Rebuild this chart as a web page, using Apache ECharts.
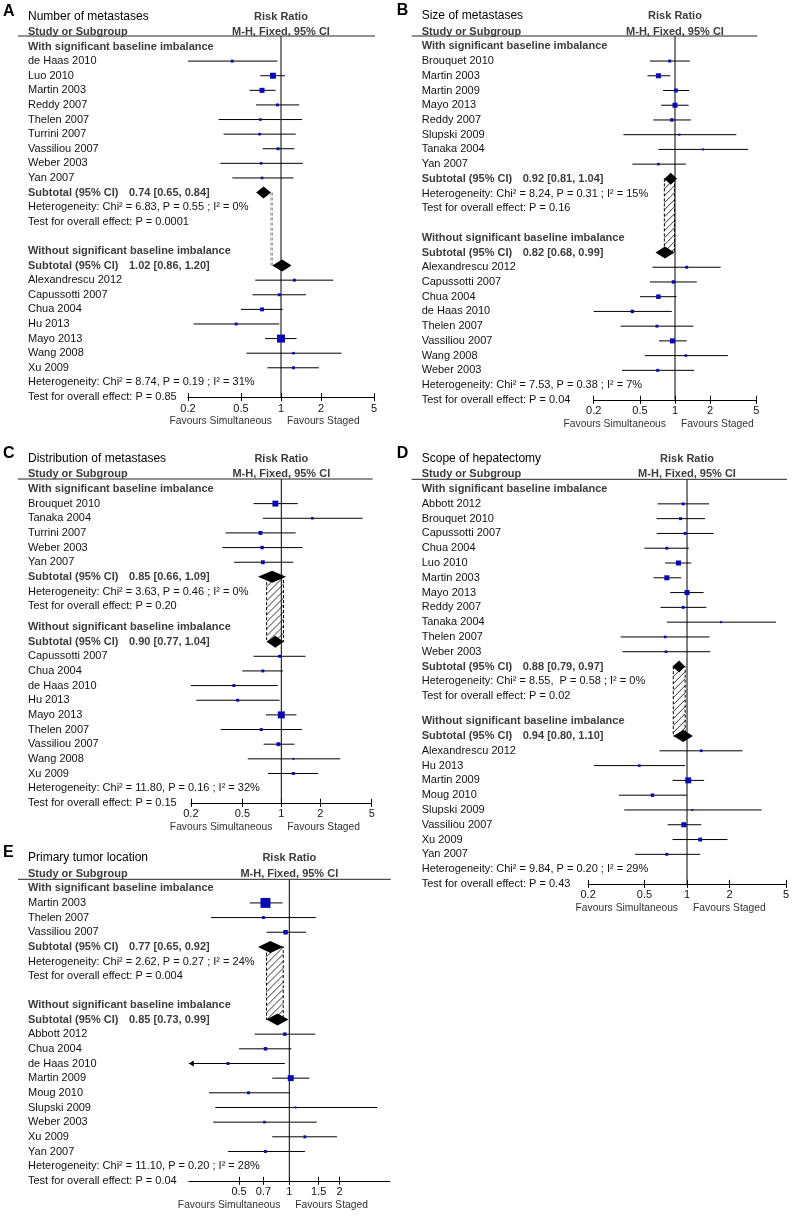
<!DOCTYPE html>
<html>
<head>
<meta charset="utf-8">
<script src="https://cdn.jsdelivr.net/npm/echarts@6/dist/echarts.min.js"></script>
<style>
html, body { margin: 0; padding: 0; background: #fff; }
#main { width: 792px; height: 1216px; }
</style>
</head>
<body>
<div id="main"></div>
<script>
// risk ratio (95% CI) of each study
var studyNames = ['de Haas 2010', 'Luo 2010', 'Martin 2003', 'Reddy 2007', 'Thelen 2007', 'Turrini 2007',
  'Vassiliou 2007', 'Weber 2003', 'Yan 2007', 'Alexandrescu 2012', 'Capussotti 2007', 'Chua 2004',
  'Hu 2013', 'Mayo 2013', 'Wang 2008', 'Xu 2009', 'Brouquet 2010', 'Martin 2009', 'Slupski 2009',
  'Tanaka 2004', 'Abbott 2012', 'Moug 2010'];
var studyRR    = [0.43, 0.87, 0.72, 0.94, 0.70, 0.69, 0.95, 0.71, 0.72, 1.26, 0.97, 0.72, 0.46, 1.00, 1.24, 1.24, 0.90, 1.02, 1.09, 1.74, 0.94, 0.57];
var studyLower = [0.20, 0.70, 0.58, 0.65, 0.34, 0.37, 0.73, 0.35, 0.43, 0.64, 0.61, 0.50, 0.22, 0.76, 0.55, 0.79, 0.61, 0.79, 0.36, 0.72, 0.62, 0.33];
var studyUpper = [0.94, 1.07, 0.91, 1.37, 1.44, 1.29, 1.26, 1.46, 1.24, 2.47, 1.54, 1.03, 0.97, 1.31, 2.85, 1.93, 1.34, 1.32, 3.37, 4.25, 1.43, 1.00];

var panelLetters = ['A', 'B', 'C', 'D', 'E'];
var panelTitles = ['Number of metastases', 'Size of metastases', 'Distribution of metastases',
  'Scope of hepatectomy', 'Primary tumor location'];

var withStudies = [
  ['de Haas 2010', 'Luo 2010', 'Martin 2003', 'Reddy 2007', 'Thelen 2007', 'Turrini 2007', 'Vassiliou 2007', 'Weber 2003', 'Yan 2007'],
  ['Brouquet 2010', 'Martin 2003', 'Martin 2009', 'Mayo 2013', 'Reddy 2007', 'Slupski 2009', 'Tanaka 2004', 'Yan 2007'],
  ['Brouquet 2010', 'Tanaka 2004', 'Turrini 2007', 'Weber 2003', 'Yan 2007'],
  ['Abbott 2012', 'Brouquet 2010', 'Capussotti 2007', 'Chua 2004', 'Luo 2010', 'Martin 2003', 'Mayo 2013', 'Reddy 2007', 'Tanaka 2004', 'Thelen 2007', 'Weber 2003'],
  ['Martin 2003', 'Thelen 2007', 'Vassiliou 2007']
];
var withWeights = [
  [5, 21, 15, 5, 4, 4, 5, 4, 4],
  [5, 15, 9, 15, 7, 2.4, 2.4, 4],
  [21, 4, 9, 7, 9],
  [5, 5, 5, 5, 15, 15, 15, 5, 2.4, 4, 4],
  [59, 5, 12]
];
var withoutStudies = [
  ['Alexandrescu 2012', 'Capussotti 2007', 'Chua 2004', 'Hu 2013', 'Mayo 2013', 'Wang 2008', 'Xu 2009'],
  ['Alexandrescu 2012', 'Capussotti 2007', 'Chua 2004', 'de Haas 2010', 'Thelen 2007', 'Vassiliou 2007', 'Wang 2008', 'Weber 2003'],
  ['Capussotti 2007', 'Chua 2004', 'de Haas 2010', 'Hu 2013', 'Mayo 2013', 'Thelen 2007', 'Vassiliou 2007', 'Wang 2008', 'Xu 2009'],
  ['Alexandrescu 2012', 'Hu 2013', 'Martin 2009', 'Moug 2010', 'Slupski 2009', 'Vassiliou 2007', 'Xu 2009', 'Yan 2007'],
  ['Abbott 2012', 'Chua 2004', 'de Haas 2010', 'Martin 2009', 'Moug 2010', 'Slupski 2009', 'Weber 2003', 'Xu 2009', 'Yan 2007']
];
var withoutWeights = [
  [5, 5, 9, 5, 38, 4, 5],
  [5, 7, 12, 7, 5, 15, 4, 5],
  [5, 5, 5, 5, 29, 5, 9, 2.4, 5],
  [4, 4, 21, 7, 2.4, 15, 9, 5],
  [7, 7, 5, 21, 5, 2.4, 4, 5, 5]
];

// subtotals: [with imbalance, without imbalance]
var subtotalRR    = [[0.74, 1.02], [0.92, 0.82], [0.85, 0.90], [0.88, 0.94], [0.77, 0.85]];
var subtotalLower = [[0.65, 0.86], [0.81, 0.68], [0.66, 0.77], [0.79, 0.80], [0.65, 0.73]];
var subtotalUpper = [[0.84, 1.20], [1.04, 0.99], [1.09, 1.04], [0.97, 1.10], [0.92, 0.99]];
var heterogeneity = [
  ['Chi² = 6.83, P = 0.55 ; I² = 0%', 'Chi² = 8.74, P = 0.19 ; I² = 31%'],
  ['Chi² = 8.24, P = 0.31 ; I² = 15%', 'Chi² = 7.53, P = 0.38 ; I² = 7%'],
  ['Chi² = 3.63, P = 0.46 ; I² = 0%', 'Chi² = 11.80, P = 0.16 ; I² = 32%'],
  ['Chi² = 8.55,  P = 0.58 ; I² = 0%', 'Chi² = 9.84, P = 0.20 ; I² = 29%'],
  ['Chi² = 2.62, P = 0.27 ; I² = 24%', 'Chi² = 11.10, P = 0.20 ; I² = 28%']
];
var overallP = [['0.0001', '0.85'], ['0.16', '0.04'], ['0.20', '0.15'], ['0.02', '0.43'], ['0.004', '0.04']];

var tickLabels = [[0.2, 0.5, 1, 2, 5], [0.2, 0.5, 1, 2, 5], [0.2, 0.5, 1, 2, 5], [0.2, 0.5, 1, 2, 5], [0.5, 0.7, 1, 1.5, 2]];
var axisRange = [[0.2, 5], [0.2, 5], [0.2, 5], [0.2, 5], [0.25, 4]];

// page layout of each panel (pixels, rows)
var frames = [
  { textX: 28,    left: 188,   width: 186,   top: 36,    height: 361,   rowTop: -0.72, gap: 2 },
  { textX: 421.7, left: 593.7, width: 162.6, top: 36,    height: 363.8, rowTop: -0.70, gap: 2 },
  { textX: 28,    left: 190.9, width: 180.8, top: 479,   height: 323.8, rowTop: -0.68, gap: 1.42 },
  { textX: 421.7, left: 588.1, width: 198.4, top: 479.3, height: 404.6, rowTop: -0.66, gap: 1.7 },
  { textX: 28,    left: 188.8, width: 201,   top: 879.3, height: 301.5, rowTop: -0.61, gap: 1.95 }
];

var FONT = '"Liberation Sans", Arial, Helvetica, sans-serif';
var GRAY = '#3c3c3c';
var BLUE = '#0a0ab4';

function txt(x, y, s, o) {
  o = o || {};
  var align = o.align || 'left';
  return {
    type: 'text', x: x, y: y,
    style: {
      text: s, fill: o.color || '#111',
      font: (o.bold ? 'bold ' : '') + (o.size || 11) + 'px ' + FONT,
      align: align, verticalAlign: 'middle',
      textAlign: align, textVerticalAlign: 'middle'
    }
  };
}
function seg(x1, y1, x2, y2, color, dash, w) {
  return {
    type: 'line', shape: { x1: x1, y1: y1, x2: x2, y2: y2 },
    style: { stroke: color || '#000', lineWidth: w || 1, lineDash: dash || null }
  };
}

function lastRow(p) {
  return withStudies[p].length + 3 + frames[p].gap + withoutStudies[p].length + 3;
}

function buildRows(p) {
  var rows = [];
  var n1 = withStudies[p].length;
  var g2 = n1 + 3 + frames[p].gap;
  function addStudy(name, row, w) {
    var k = studyNames.indexOf(name);
    rows.push({ kind: 'study', row: row, name: name, rr: studyRR[k], lo: studyLower[k], hi: studyUpper[k], w: w });
  }
  function addSub(row, j) {
    rows.push({ kind: 'sub', row: row, rr: subtotalRR[p][j], lo: subtotalLower[p][j], hi: subtotalUpper[p][j] });
  }
  rows.push({ kind: 'overlap', row: n1 + 1, row2: g2 + 1 });
  rows.push({ kind: 'frame', row: 0 });
  rows.push({ kind: 'head', row: 0, text: 'With significant baseline imbalance' });
  withStudies[p].forEach(function (name, i) { addStudy(name, i + 1, withWeights[p][i]); });
  addSub(n1 + 1, 0);
  rows.push({ kind: 'text', row: n1 + 2, text: 'Heterogeneity: ' + heterogeneity[p][0] });
  rows.push({ kind: 'text', row: n1 + 3, text: 'Test for overall effect: P = ' + overallP[p][0] });
  rows.push({ kind: 'head', row: g2, text: 'Without significant baseline imbalance' });
  addSub(g2 + 1, 1);
  withoutStudies[p].forEach(function (name, i) { addStudy(name, g2 + 2 + i, withoutWeights[p][i]); });
  var n2 = withoutStudies[p].length;
  rows.push({ kind: 'text', row: g2 + 2 + n2, text: 'Heterogeneity: ' + heterogeneity[p][1] });
  rows.push({ kind: 'text', row: g2 + 3 + n2, text: 'Test for overall effect: P = ' + overallP[p][1] });
  return rows;
}

function makeRenderer(p, rows) {
  var f = frames[p];
  var xmin = axisRange[p][0], xmax = axisRange[p][1];
  return function (params, api) {
    var d = rows[params.dataIndex];
    var X = function (v) { return api.coord([Math.log10(v), 0])[0]; };
    var Y = function (r) { return api.coord([0, r])[1]; };
    var y = Y(d.row);
    var el = [];
    if (d.kind === 'frame') {
      var top = Y(f.rowTop), bottom = Y(lastRow(p));
      var x1 = X(1);
      el.push(seg(x1, top, x1, bottom, '#000'));
      el.push(seg(f.textX - 10, top, X(xmax) + 1, top, '#222'));
      el.push(txt(f.textX - 25, Y(-2.4), panelLetters[p], { size: 16, bold: true, color: '#000' }));
      el.push(txt(f.textX, Y(-2.05), panelTitles[p], { size: 12, color: '#000' }));
      el.push(txt(x1, Y(-2.05), 'Risk Ratio', { bold: true, color: GRAY, align: 'center' }));
      el.push(txt(f.textX, Y(-1), 'Study or Subgroup', { bold: true, color: GRAY }));
      el.push(txt(x1, Y(-1), 'M-H, Fixed, 95% CI', { bold: true, color: GRAY, align: 'center' }));
      el.push(txt(x1 - 9, bottom + 24, 'Favours Simultaneous', { size: 10.3, color: '#333', align: 'right' }));
      el.push(txt(x1 + 6, bottom + 24, 'Favours Staged', { size: 10.3, color: '#333' }));
    } else if (d.kind === 'overlap') {
      var ya = Y(d.row), yb = Y(d.row2);
      var lo = Math.max(subtotalLower[p][0], subtotalLower[p][1]);
      var hi = Math.min(subtotalUpper[p][0], subtotalUpper[p][1]);
      if (lo < hi) {
        var xa = X(lo), xb = X(hi);
        el.push({ type: 'rect', shape: { x: xa, y: ya, width: xb - xa, height: yb - ya },
          style: { fill: '#fff', stroke: '#000', lineWidth: 1, lineDash: [3, 2] } });
        for (var s = xa + ya + 3; s < xb + yb; s += 7) {
          var ax = Math.max(xa, s - yb), bx = Math.min(xb, s - ya);
          if (bx > ax) el.push(seg(ax, s - ax, bx, s - bx, '#000', null, 0.8));
        }
      } else {
        var gl = X(Math.min(subtotalUpper[p][0], subtotalUpper[p][1]));
        var gr = X(Math.max(subtotalLower[p][0], subtotalLower[p][1]));
        el.push(seg(gl, ya, gl, yb, '#888', [3, 2]));
        el.push(seg(gr, ya, gr, yb, '#888', [3, 2]));
      }
    } else if (d.kind === 'head') {
      el.push(txt(f.textX, y, d.text, { bold: true, color: GRAY }));
    } else if (d.kind === 'text') {
      el.push(txt(f.textX, y, d.text, { color: '#111' }));
    } else if (d.kind === 'study') {
      var l = X(Math.max(d.lo, xmin)), r = X(Math.min(d.hi, xmax));
      el.push(seg(l, y, r, y, '#000'));
      if (d.lo < xmin) {
        el.push({ type: 'polygon', shape: { points: [[l, y], [l + 5, y - 3], [l + 5, y + 3]] }, style: { fill: '#000' } });
      }
      var side = Math.max(2, 1.3 * Math.sqrt(d.w));
      var cx = X(d.rr);
      el.push({ type: 'rect', shape: { x: cx - side / 2, y: y - side / 2, width: side, height: side }, style: { fill: BLUE } });
      el.push(txt(f.textX, y, d.name, { color: '#111' }));
    } else if (d.kind === 'sub') {
      var xl = X(d.lo), xr = X(d.hi), xc = X(d.rr);
      el.push({ type: 'polygon', shape: { points: [[xl, y], [xc, y - 6], [xr, y], [xc, y + 6]] }, style: { fill: '#000' } });
      el.push(txt(f.textX, y, 'Subtotal (95% CI)', { bold: true, color: GRAY }));
      el.push(txt(f.textX + 101, y, d.rr.toFixed(2) + ' [' + d.lo.toFixed(2) + ', ' + d.hi.toFixed(2) + ']', { bold: true, color: GRAY }));
    }
    return { type: 'group', children: el };
  };
}

var grids = [], xAxes = [], yAxes = [], series = [];
frames.forEach(function (f, p) {
  grids.push({ left: f.left, top: f.top, width: f.width, height: f.height });
  var ticks = tickLabels[p].map(function (v) { return Math.log10(v); });
  var base = {
    type: 'value', gridIndex: p, position: 'bottom', offset: 0,
    min: Math.log10(axisRange[p][0]), max: Math.log10(axisRange[p][1]),
    splitLine: { show: false }
  };
  xAxes.push(Object.assign({}, base, {
    axisLine: { show: true, onZero: false, lineStyle: { color: '#000', width: 1 } },
    axisTick: { show: true, inside: false, length: 4, customValues: ticks, lineStyle: { color: '#000' } },
    axisLabel: {
      show: true, customValues: ticks, margin: 6, color: '#111', fontSize: 11, fontFamily: FONT,
      formatter: function (v) { return String(+Math.pow(10, v).toPrecision(2)); }
    }
  }));
  xAxes.push(Object.assign({}, base, {
    axisLine: { show: false, onZero: false },
    axisTick: { show: true, inside: true, length: 4, customValues: ticks, lineStyle: { color: '#000' } },
    axisLabel: { show: false }
  }));
  yAxes.push({ type: 'value', gridIndex: p, inverse: true, show: false, min: f.rowTop, max: lastRow(p),
    axisLine: { onZero: false } });
  var rows = buildRows(p);
  series.push({
    type: 'custom', xAxisIndex: p * 2, yAxisIndex: p, silent: true, clip: false,
    data: rows.map(function (r) { return [Math.log10(r.rr || 1), r.row]; }),
    encode: { x: 0, y: 1 },
    renderItem: makeRenderer(p, rows)
  });
});

var myChart = echarts.init(document.getElementById('main'), null, { renderer: 'canvas' });
myChart.setOption({
  backgroundColor: '#fff',
  animation: false,
  grid: grids,
  xAxis: xAxes,
  yAxis: yAxes,
  series: series
});
</script>
</body>
</html>
